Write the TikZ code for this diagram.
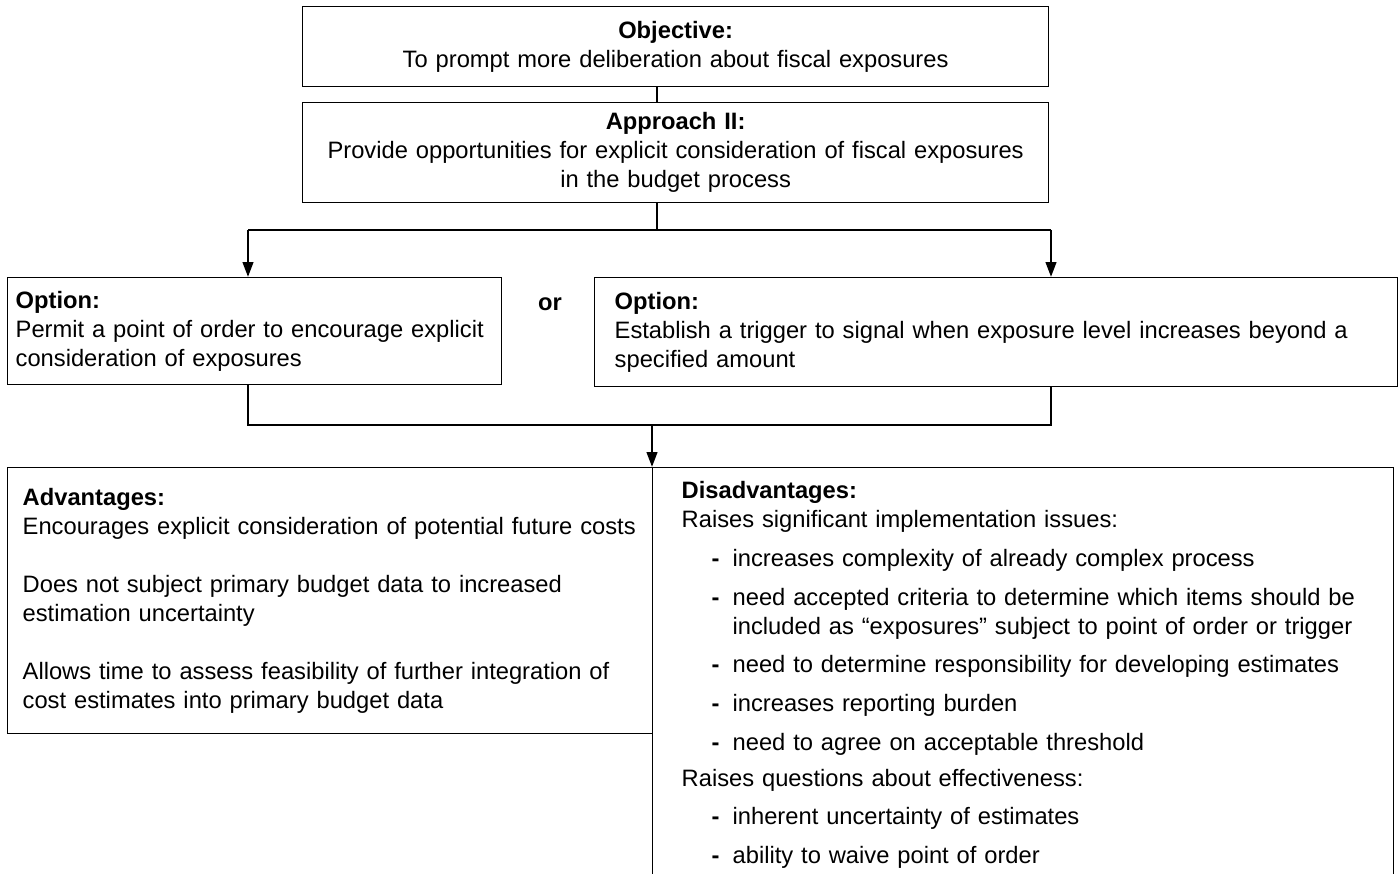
\documentclass[tikz,border=0pt]{standalone}
\usepackage{fontspec}
\setmainfont{Liberation Sans}
\usetikzlibrary{positioning, arrows.meta}
\newcommand{\dashline}[1]{\hspace*{17pt}\makebox[12pt][l]{\textbf{-}}#1}

\begin{document}
\begin{tikzpicture}[x=0.02cm,y=-0.02cm,font=\fontsize{13.5}{16.5}\selectfont,
    box/.style={draw,line width=0.8pt,anchor=north west,inner ysep=0pt},
    link/.style={line width=1.4pt},
    flow/.style={link,-{Triangle[length=8.5pt,width=6pt]}}]
    \useasboundingbox (0,0) rectangle (1399,874);

    \node[box,align=center,minimum width=14.92cm,minimum height=1.6cm,text width=14.5cm]
      (obj) at (302,6) {\textbf{Objective:}\\To prompt more deliberation about fiscal exposures};
    \node[box,align=center,minimum width=14.92cm,minimum height=2cm,text width=14.5cm]
      (appr) at (302,102) {\textbf{Approach II:}\\Provide opportunities for explicit consideration of fiscal exposures\\in the budget process};

    \node[box,align=left,minimum width=9.88cm,minimum height=2.14cm,inner xsep=0.16cm,text width=9.56cm]
      (optL) at (7,277) {\textbf{Option:}\\Permit a point of order to encourage explicit\\consideration of exposures};
    \node[box,align=left,minimum width=16.06cm,minimum height=2.18cm,inner xsep=0.4cm,text width=15.26cm]
      (optR) at (594,277) {\textbf{Option:}\\Establish a trigger to signal when exposure level increases beyond a\\specified amount};
    \node[font=\fontsize{13.5}{16.5}\selectfont\bfseries] (or) at (550,304) {or};

    \node[box,align=left,minimum width=12.9cm,minimum height=5.32cm,inner xsep=0.3cm,text width=12.3cm]
      (adv) at (7,467) {\textbf{Advantages:}\\
        Encourages explicit consideration of potential future costs\\[16.5pt]
        Does not subject primary budget data to increased\\
        estimation uncertainty\\[16.5pt]
        Allows time to assess feasibility of further integration of\\
        cost estimates into primary budget data};
    \node[box,align=left,minimum width=14.82cm,inner xsep=0.58cm,inner ysep=8pt,text width=13.66cm]
      (dis) at (652,467) {\textbf{Disadvantages:}\\
        Raises significant implementation issues:\\[5.5pt]
        \dashline{increases complexity of already complex process}\\[5.5pt]
        \dashline{need accepted criteria to determine which items should be}\\
        \hspace*{29pt}included as “exposures” subject to point of order or trigger\\[5.5pt]
        \dashline{need to determine responsibility for developing estimates}\\[5.5pt]
        \dashline{increases reporting burden}\\[5.5pt]
        \dashline{need to agree on acceptable threshold}\\[4pt]
        Raises questions about effectiveness:\\[5.5pt]
        \dashline{inherent uncertainty of estimates}\\[5.5pt]
        \dashline{ability to waive point of order}};

    % connectors
    \coordinate (split) at (657,230);
    \coordinate (forkL) at (248,230);
    \coordinate (forkR) at (1051,230);
    \coordinate (joinL) at (248,425);
    \coordinate (joinR) at (1051,425);
    \coordinate (join) at (652,425);
    \draw[link] (obj.south -| split) -- (appr.north -| split);
    \draw[link] (appr.south -| split) -- (split);
    \draw[link] (forkL) -- (forkR);
    \draw[flow] (forkL) -- (optL.north -| forkL);
    \draw[flow] (forkR) -- (optR.north -| forkR);
    \draw[link] (optL.south -| joinL) -- (joinL) -- (joinR) -- (optR.south -| joinR);
    \draw[flow] (join) -- (adv.north -| join);
\end{tikzpicture}
\end{document}
